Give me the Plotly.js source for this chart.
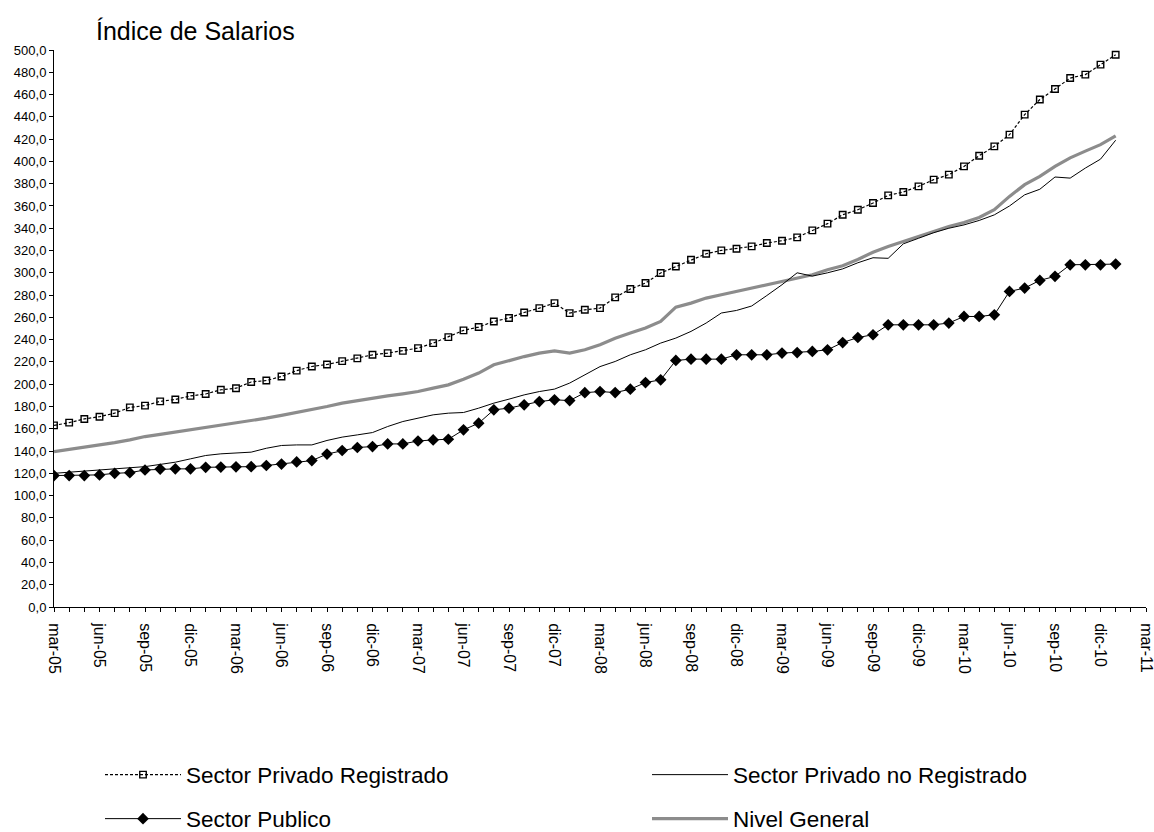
<!DOCTYPE html>
<html>
<head>
<meta charset="utf-8">
<script src="https://cdn.plot.ly/plotly-3.0.1.min.js"></script>
<style>html,body{margin:0;padding:0;background:#fff;}#chart{width:1154px;height:832px;}</style>
</head>
<body>
<div id="chart"></div>
<script>
// Monthly categories (mar-05 .. ene-11) with data
const months = [
  "mar-05","abr-05","may-05","jun-05","jul-05","ago-05","sep-05","oct-05","nov-05","dic-05",
  "ene-06","feb-06","mar-06","abr-06","may-06","jun-06","jul-06","ago-06","sep-06","oct-06","nov-06","dic-06",
  "ene-07","feb-07","mar-07","abr-07","may-07","jun-07","jul-07","ago-07","sep-07","oct-07","nov-07","dic-07",
  "ene-08","feb-08","mar-08","abr-08","may-08","jun-08","jul-08","ago-08","sep-08","oct-08","nov-08","dic-08",
  "ene-09","feb-09","mar-09","abr-09","may-09","jun-09","jul-09","ago-09","sep-09","oct-09","nov-09","dic-09",
  "ene-10","feb-10","mar-10","abr-10","may-10","jun-10","jul-10","ago-10","sep-10","oct-10","nov-10","dic-10",
  "ene-11"
];
// Axis continues to mar-11 without data
const extraMonths = ["feb-11","mar-11"];
const tickLabels = ["mar-05","jun-05","sep-05","dic-05","mar-06","jun-06","sep-06","dic-06",
  "mar-07","jun-07","sep-07","dic-07","mar-08","jun-08","sep-08","dic-08",
  "mar-09","jun-09","sep-09","dic-09","mar-10","jun-10","sep-10","dic-10","mar-11"];

const privadoRegistrado = [
  163,165.5,168.8,170.8,174,179.2,180.8,184.6,186.3,189.5,
  191.2,195,196.4,202,203.3,206.9,212.2,215.9,217.7,220.7,223.2,226.4,
  227.9,229.9,232.4,236.9,242.3,248.3,251.3,256.3,259.4,264.4,268.3,272.8,
  263.8,266.8,268.3,277.9,285.4,290.8,299.8,305.7,311.7,317.1,320.1,321.6,
  323.7,326.7,328.8,331.8,338.1,344.1,352.1,356.6,362.6,369.5,372.5,377.6,
  383.6,388.1,395.5,405.1,413.5,424,442,455.5,465,474.8,477.9,486.9,
  495.8
];
const privadoNoRegistrado = [
  120,121,122,122.5,123.5,124.5,126,128,130,133,
  136,137.5,138,139,142.5,145,145.5,145.5,149.5,152.5,154.5,156.6,
  162,166.5,169.5,172.5,174,174.6,178.5,183,186.6,190.4,193.4,195.6,
  201,208.5,215.8,220.4,226.4,230.9,236.9,241.4,247.4,254.9,263.9,266.2,
  270.2,279.6,289.3,300,297,300,303.5,309,313.5,313,326,331,
  336,340,343,347,352,360,370,375,386,385,394,402,
  419
];
const sectorPublico = [
  118,118,118,118.6,120,120.6,123,123.8,124,124,
  125.4,125.6,125.8,126,127,128.3,130.2,131.4,137.3,140.5,143.2,144,
  146.4,146.4,149,150,150.6,159,165,177,178.5,181.5,184.4,186,
  185.3,192.4,193.4,192.5,195.5,201.5,203.9,221.3,222.5,222.5,222.5,226.4,
  226.4,226.4,227.9,228.4,229.4,230.9,237.4,241.9,244.4,253.3,253.3,253.3,
  253.3,254.9,260.8,260.8,262.3,283.3,286.3,293.2,296.8,307.2,307.2,307.2,
  307.8
];
const nivelGeneral = [
  139.5,141.5,143.5,145,147.5,150,153,155,157,159,
  161,163,165,167,169.5,172,174.5,177,180,183,185.3,187.5,
  189.5,191.3,193.4,196.5,199.4,204.5,210,217.4,221.2,224.8,227.9,229.9,
  227.9,230.9,235.5,241.3,245.9,250.4,256.3,269.2,272.8,277.3,280.3,283.3,
  286.3,289.9,292.3,295.3,298.2,302.7,306.3,312,318.5,323.7,328.2,332.7,
  337.1,341.6,345.2,349.7,356.6,368.6,379.1,386.6,395.5,403.2,409.2,415,
  423
];

const axisMonths = months.concat(extraMonths);
const tickText = axisMonths.map(m => tickLabels.includes(m) ? m : "");
const FONT = "Liberation Sans, Arial, sans-serif";

const traces = [
  {x: months, y: nivelGeneral, name: "Nivel General", type: "scatter", mode: "lines",
   line: {color: "#8c8c8c", width: 3.2}, legend: "legend2", legendrank: 2, legendwidth: 250},
  {x: months, y: privadoNoRegistrado, name: "Sector Privado no Registrado", type: "scatter", mode: "lines",
   line: {color: "#000", width: 1}, legend: "legend", legendrank: 2, legendwidth: 320},
  {x: months, y: sectorPublico, name: "Sector Publico", type: "scatter", mode: "lines+markers",
   line: {color: "#000", width: 1}, marker: {symbol: "diamond", size: 9, color: "#000"},
   legend: "legend2", legendrank: 1, legendwidth: 456},
  {x: months, y: privadoRegistrado, name: "Sector Privado Registrado", type: "scatter", mode: "lines+markers",
   line: {color: "#000", width: 1.2, dash: "3px,2px"},
   marker: {symbol: "square-open", size: 6.5, color: "#000", line: {width: 1.4, color: "#000"}},
   legend: "legend", legendrank: 1, legendwidth: 456}
];

const legendCommon = {
  orientation: "h", xref: "container", yref: "container", xanchor: "left", yanchor: "middle",
  font: {family: FONT, size: 22.5, color: "#000"}, itemwidth: 76,
  bgcolor: "rgba(0,0,0,0)", borderwidth: 0
};

const layout = {
  width: 1154, height: 832,
  margin: {l: 54, r: 8, t: 50, b: 225},
  paper_bgcolor: "#fff", plot_bgcolor: "#fff",
  separators: ",.",
  font: {family: FONT, color: "#000"},
  showlegend: true,
  title: {text: "Índice de Salarios", xref: "container", yref: "container",
          x: 96/1154, xanchor: "left", y: 1 - 31/832, yanchor: "middle",
          font: {family: FONT, size: 25, color: "#000"}},
  xaxis: {
    type: "category", categoryorder: "array", categoryarray: axisMonths,
    range: [0, axisMonths.length - 1],
    tickmode: "array", tickvals: axisMonths, ticktext: tickText,
    tickangle: 90, ticks: "outside", ticklen: 4, tickcolor: "#000", tickwidth: 1,
    ticklabelstandoff: 8,
    showline: true, linecolor: "#000", linewidth: 1, showgrid: false, zeroline: false,
    tickfont: {family: FONT, size: 16, color: "#000"}, fixedrange: true
  },
  yaxis: {
    range: [0, 500], dtick: 20, tick0: 0, tickformat: ".1f",
    ticks: "outside", ticklen: 4, tickcolor: "#000", tickwidth: 1,
    showline: true, linecolor: "#000", linewidth: 1, showgrid: false, zeroline: false,
    tickfont: {family: FONT, size: 13, color: "#000"}, fixedrange: true
  },
  legend: Object.assign({}, legendCommon, {x: 100/1154, y: 1 - 775/832}),
  legend2: Object.assign({}, legendCommon, {x: 100/1154, y: 1 - 819/832})
};

Plotly.newPlot("chart", traces, layout, {displayModeBar: false, staticPlot: true});
</script>
</body>
</html>
